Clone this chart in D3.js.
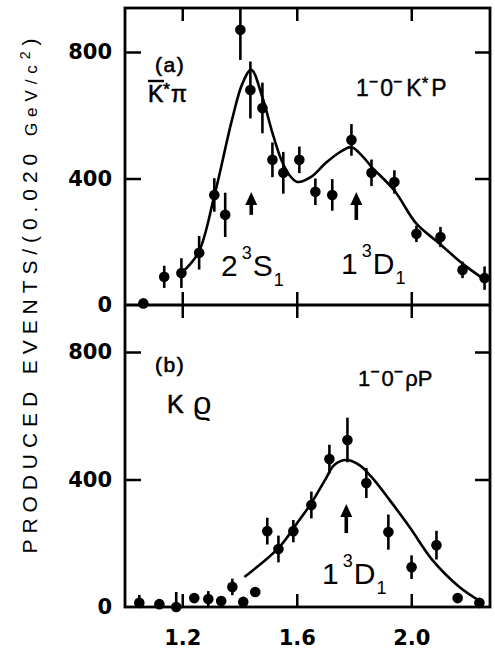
<!DOCTYPE html>
<html><head><meta charset="utf-8">
<script src="https://cdn.jsdelivr.net/npm/d3@7"></script>
<style>body{margin:0;background:#fff} svg{display:block}</style>
</head><body><svg id="c" width="495" height="653"></svg>
<script>
// ---------- data ----------
const massTicks = [1.2, 1.6, 2.0];
const eventTicks = [0, 400, 800];

// panel (a)  K*pi
const massA   = [1.064,1.137,1.197,1.259,1.312,1.350,1.403,1.438,1.480,1.515,1.553,1.609,1.665,1.724,1.791,1.861,1.941,2.018,2.102,2.179,2.256];
const eventsA = [5,89,101,165,348,285,870,680,623,459,418,459,358,348,522,418,389,225,215,111,85];
const errA    = [0,35,47,53,53,70,95,90,80,55,66,42,42,50,50,42,37,26,32,26,37];
const fitMassA   = [1.197,1.256,1.312,1.375,1.410,1.441,1.480,1.515,1.546,1.574,1.602,1.650,1.700,1.750,1.791,1.830,1.861,1.941,2.018,2.099,2.180,2.263];
const fitEventsA = [101,165,345,590,700,744,657,544,459,411,389,405,448,483,499,470,437,362,257,194,130,76];
const arrowsA = [1.441, 1.808];

// panel (b)  K rho
const massB   = [1.050,1.120,1.179,1.242,1.291,1.336,1.375,1.413,1.455,1.497,1.536,1.588,1.651,1.714,1.777,1.843,1.920,2.001,2.088,2.162,2.238];
const eventsB = [13,9,0,28,25,19,63,16,47,238,182,238,320,464,524,389,235,125,194,28,13];
const errB    = [25,0,47,0,25,0,26,0,0,42,42,35,42,45,70,47,55,37,45,0,0];
const fitMassB   = [1.417,1.539,1.609,1.651,1.703,1.730,1.773,1.819,1.861,1.924,1.994,2.074,2.168,2.245];
const fitEventsB = [94,188,273,326,405,445,461,445,408,336,251,147,63,16];
const arrowsB = [1.773];

// ---------- layout ----------
const L = 125, R = 490, T = 8, M = 305, B = 607;
const svg = d3.select('#c');
const x = d3.scaleLinear().domain([1.0, 2.275]).range([L, R]);
const yA = d3.scaleLinear().domain([0, 800]).range([M, 52]);
const yB = d3.scaleLinear().domain([0, 800]).range([B, 352]);

const defs = svg.append('defs');
defs.append('clipPath').attr('id','clipA').append('rect').attr('x',L).attr('y',T).attr('width',R-L).attr('height',M-T);
defs.append('clipPath').attr('id','clipB').append('rect').attr('x',L).attr('y',M).attr('width',R-L).attr('height',B-M);

const ink = '#000';
const tickFont = 'DejaVu Sans, sans-serif';

function styleAxis(g){
  g.select('.domain').remove();
  g.selectAll('.tick line').attr('stroke', ink).attr('stroke-width', 2.5);
  g.selectAll('.tick text').attr('fill', ink).attr('font-family', tickFont).attr('font-size', 21).attr('font-weight', 'bold');
}

function panel(y, clipId, mass, events, err, fm, fe, top, bottom){
  svg.append('g').attr('transform',`translate(${L},0)`)
    .call(d3.axisLeft(y).tickValues(eventTicks).tickSize(-16).tickPadding(13).tickFormat(d3.format('d')))
    .call(styleAxis);
  svg.selectAll('.tick').filter(d=>d===0).select('line').remove();
  svg.append('g').attr('transform',`translate(${R},0)`)
    .call(d3.axisRight(y).tickValues([400,800]).tickSize(-15).tickFormat(''))
    .call(styleAxis);
  svg.append('g').attr('transform',`translate(0,${top})`)
    .call(d3.axisTop(x).tickValues(massTicks).tickSize(-13).tickFormat(''))
    .call(styleAxis);
  svg.append('g').attr('transform',`translate(0,${bottom})`)
    .call(d3.axisBottom(x).tickValues(massTicks).tickSize(-13).tickFormat(''))
    .call(styleAxis);

  const g = svg.append('g').attr('clip-path',`url(#${clipId})`);
  g.append('path')
    .datum(fm.map((m,i)=>[m, fe[i]]))
    .attr('fill','none').attr('stroke',ink).attr('stroke-width',2.6)
    .attr('stroke-linejoin','round')
    .attr('d', d3.line().x(d=>x(d[0])).y(d=>y(d[1])).curve(d3.curveCatmullRom.alpha(0.5)));
  g.selectAll(null).data(mass.map((m,i)=>({m, v:events[i], e:err[i]})).filter(d=>d.e>0))
    .enter().append('line')
    .attr('x1',d=>x(d.m)).attr('x2',d=>x(d.m))
    .attr('y1',d=>y(d.v+d.e)).attr('y2',d=>y(Math.max(d.v-d.e,-20)))
    .attr('stroke',ink).attr('stroke-width',2.6);
  svg.append('g').selectAll(null).data(mass.map((m,i)=>({m, v:events[i]})))
    .enter().append('circle')
    .attr('cx',d=>x(d.m)).attr('cy',d=>y(d.v)).attr('r',5.3).attr('fill',ink);
}

panel(yA,'clipA',massA,eventsA,errA,fitMassA,fitEventsA,T,M);
panel(yB,'clipB',massB,eventsB,errB,fitMassB,fitEventsB,M,B);

// x tick labels
svg.append('g').attr('transform',`translate(0,${B})`)
  .call(d3.axisBottom(x).tickValues(massTicks).tickSize(0).tickPadding(23).tickFormat(d3.format('.1f')))
  .call(styleAxis);

// frame
svg.append('rect').attr('x',L).attr('y',T).attr('width',R-L).attr('height',B-T)
  .attr('fill','none').attr('stroke',ink).attr('stroke-width',2.8);
svg.append('line').attr('x1',L).attr('x2',R).attr('y1',M).attr('y2',M)
  .attr('stroke',ink).attr('stroke-width',2.8);

// arrows
function arrow(xm, y, tipV, baseV){
  const px = x(xm), yt = y(tipV), yb = y(baseV);
  svg.append('line').attr('x1',px).attr('x2',px).attr('y1',yt+8).attr('y2',yb)
    .attr('stroke',ink).attr('stroke-width',3.6);
  svg.append('path').attr('d',`M${px},${yt} L${px-6},${yt+13} L${px+6},${yt+13} Z`).attr('fill',ink);
}
arrow(arrowsA[0], yA, 357, 285);
arrow(arrowsA[1], yA, 357, 269);
arrow(arrowsB[0], yB, 323, 232);

// annotations
const ann = 'Liberation Sans, Arial, sans-serif';
function txt(xp, yp, size, parts){
  const t = svg.append('text').attr('x',xp).attr('y',yp).attr('font-family',ann)
    .attr('font-size',size).attr('fill',ink);
  parts.forEach(p=>{
    const s = t.append('tspan').text(p.t);
    if (p.s) s.attr('font-size', p.s);
    if (p.dy) s.attr('dy', p.dy);
    if (p.dx) s.attr('dx', p.dx);
  });
  return t;
}
txt(155, 72, 21, [{t:'(a)'}]).attr('letter-spacing',1.5).attr('stroke',ink).attr('stroke-width',0.6);
txt(148, 102, 23, [{t:'K'},{t:'*',s:17,dy:-7},{t:'π',dy:7,dx:1}]).attr('stroke',ink).attr('stroke-width',0.6);
svg.append('line').attr('x1',148).attr('x2',164).attr('y1',81).attr('y2',81).attr('stroke',ink).attr('stroke-width',2.4);
txt(356, 96, 23, [{t:'1'},{t:'−',s:16,dy:-9},{t:'0',dy:9,dx:2},{t:'−',s:16,dy:-9},{t:'K',dy:9,dx:4},{t:'*',s:17,dy:-7},{t:'P',dy:7,dx:3}]).attr('stroke',ink).attr('stroke-width',0.4);
txt(221, 276, 30, [{t:'2'},{t:'3',s:18,dy:-17,dx:4},{t:'S',dy:17,dx:1},{t:'1',s:18,dy:10,dx:1}]);
txt(341, 274, 30, [{t:'1'},{t:'3',s:18,dy:-17,dx:4},{t:'D',dy:17,dx:1},{t:'1',s:18,dy:10,dx:1}]);

txt(155, 372, 21, [{t:'(b)'}]).attr('letter-spacing',1.5).attr('stroke',ink).attr('stroke-width',0.6);
txt(167, 413, 25, [{t:'K'}]).attr('stroke',ink).attr('stroke-width',0.6);
txt(193, 414, 32, [{t:'ϱ'}]);
txt(358, 386, 22, [{t:'1'},{t:'−',s:16,dy:-9},{t:'0',dy:9,dx:2},{t:'−',s:16,dy:-9},{t:'ρ',dy:9,dx:2},{t:'P'}]).attr('stroke',ink).attr('stroke-width',0.4);
txt(322, 584, 30, [{t:'1'},{t:'3',s:18,dy:-17,dx:4},{t:'D',dy:17,dx:1},{t:'1',s:18,dy:10,dx:1}]);

// y-axis title
const yt = svg.append('text').attr('transform','translate(37,296) rotate(-90)')
  .attr('text-anchor','middle').attr('font-family',ann).attr('font-size',21).attr('fill',ink)
  .attr('textLength',515).attr('lengthAdjust','spacing');
yt.append('tspan').text('PRODUCED  EVENTS/(0.020 ');
yt.append('tspan').attr('font-size',17).text('GeV/c');
yt.append('tspan').attr('font-size',14).attr('dy',-7).text('2');
yt.append('tspan').attr('dy',7).text(')');
</script></body></html>
